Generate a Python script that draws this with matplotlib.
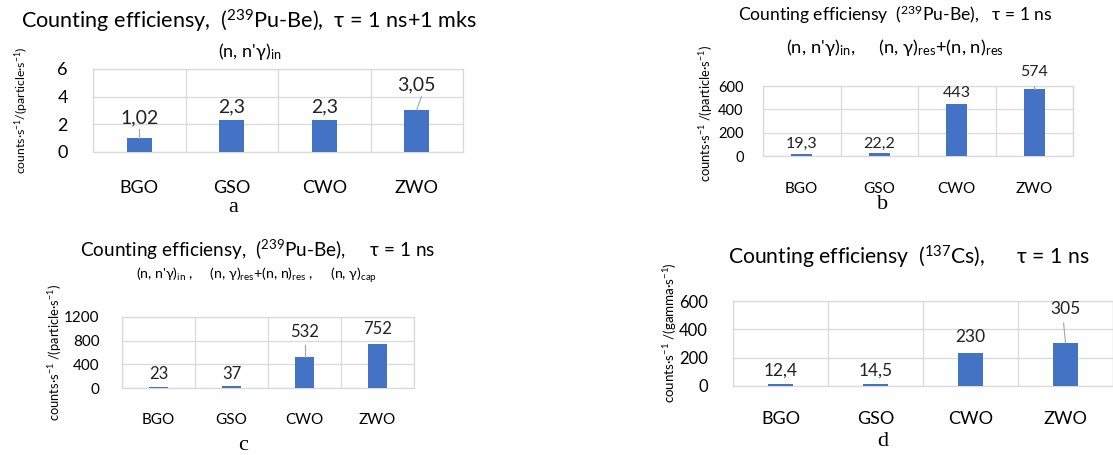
import matplotlib
matplotlib.use('Agg')
import matplotlib.pyplot as plt
from matplotlib.ticker import FixedLocator

plt.rcParams['font.family'] = ['Lato', 'DejaVu Sans']
plt.rcParams['mathtext.fontset'] = 'custom'
plt.rcParams['mathtext.rm'] = 'Lato'
plt.rcParams['mathtext.it'] = 'Lato:italic'
plt.rcParams['mathtext.bf'] = 'Lato:bold'

# data
crystals = ['BGO', 'GSO', 'CWO', 'ZWO']

eff_a = [1.02, 2.3, 2.3, 3.05]
eff_b = [19.3, 22.2, 443, 574]
eff_c = [23, 37, 532, 752]
eff_d = [12.4, 14.5, 230, 305]

labels_a = ['1,02', '2,3', '2,3', '3,05']
labels_b = ['19,3', '22,2', '443', '574']
labels_c = ['23', '37', '532', '752']
labels_d = ['12,4', '14,5', '230', '305']

yticks_a = [0, 2, 4, 6]
yticks_b = [0, 200, 400, 600]
yticks_c = [0, 400, 800, 1200]
yticks_d = [0, 200, 400, 600]

title_a = r"Counting efficiensy,  ($^{239}$Pu-Be),  τ = 1 ns+1 mks"
sub_a = r"(n, n'γ)$_\mathrm{in}$"
title_b = r"Counting efficiensy  ($^{239}$Pu-Be),   τ = 1 ns"
sub_b = r"(n, n'γ)$_\mathrm{in}$,     (n, γ)$_\mathrm{res}$+(n, n)$_\mathrm{res}$"
title_c = r"Counting efficiensy,  ($^{239}$Pu-Be),     τ = 1 ns"
sub_c = r"(n, n'γ)$_\mathrm{in}$ ,     (n, γ)$_\mathrm{res}$+(n, n)$_\mathrm{res}$ ,     (n, γ)$_\mathrm{cap}$"
title_d = r"Counting efficiensy  ($^{137}$Cs),      τ = 1 ns"

ylab_part = r"counts·s$^{-1}$/(particle·s$^{-1}$)"
ylab_part2 = r"counts·s$^{-1}$ /(particle·s$^{-1}$)"
ylab_gamma = r"counts·s$^{-1}$ /(gamma·s$^{-1}$)"

BAR = '#4472C4'
GRID = '#D9D9D9'
W, H = 1113, 455

fig = plt.figure(figsize=(W / 100, H / 100), dpi=100)


def box(l, t, r, b):
    return [l / W, 1 - b / H, (r - l) / W, (b - t) / H]


def ftxt(x, y, s, **kw):
    fig.text(x / W, 1 - y / H, s, ha='center', va='center', **kw)


def panel(rect, vals, labs, yt, lab_y, leaders, fs_tick, fs_ytick, fs_lab, pad_x, pad_y):
    ax = fig.add_axes(box(*rect))
    x = range(len(crystals))
    ax.bar(x, vals, width=0.27, color=BAR, zorder=3)
    ax.set_xlim(-0.5, len(crystals) - 0.5)
    ax.set_ylim(yt[0], yt[-1])
    ax.set_yticks(yt)
    ax.set_xticks(list(x))
    ax.set_xticklabels(crystals, fontsize=fs_tick)
    ax.tick_params(axis='y', labelsize=fs_ytick, length=0, pad=pad_y)
    ax.tick_params(axis='x', length=0, pad=pad_x)
    ax.xaxis.set_minor_locator(FixedLocator([i - 0.5 for i in range(len(crystals) + 1)]))
    ax.tick_params(axis='x', which='minor', length=0)
    ax.grid(axis='y', which='major', color=GRID, lw=0.9, zorder=0)
    ax.grid(axis='x', which='minor', color=GRID, lw=0.9, zorder=0)
    for s in ax.spines.values():
        s.set_color(GRID)
        s.set_linewidth(0.9)
    for i, (v, t, ly) in enumerate(zip(vals, labs, lab_y)):
        ax.text(i, ly, t, ha='center', va='center', fontsize=fs_lab, color='#222222')
        if leaders[i] is not None:
            dx, top = leaders[i]
            ax.plot([i, i + dx], [v, top], color='#A6A6A6', lw=0.8, zorder=4)
    return ax


# a
panel((93, 69, 463, 152), eff_a, labels_a, yticks_a, [2.46, 3.26, 3.26, 4.85],
      [(0, 1.65), None, None, (0.05, 4.0)], 13, 13, 14, 20, 18)
ftxt(249, 21, title_a, fontsize=15.6)
ftxt(250, 52, sub_a, fontsize=13)
ftxt(22, 110, ylab_part, fontsize=8.8, rotation=90)
ftxt(233, 208, 'a', fontsize=16, family='Liberation Serif')

# b
panel((763, 86, 1073, 156), eff_b, labels_b, yticks_b, [103, 103, 540, 722],
      [None, None, None, (0, 651)], 11, 10.5, 11.5, 19, 14)
ftxt(895, 15, title_b, fontsize=12.6)
ftxt(895, 48, sub_b, fontsize=13.3)
ftxt(706, 113, ylab_part2, fontsize=9.3, rotation=90)
ftxt(883, 205, 'b', fontsize=16, family='Liberation Serif')

# c
panel((122, 317, 414, 388), eff_c, labels_c, yticks_c, [245, 245, 951, 997],
      [None, None, (0, 727), None], 11, 11, 12, 18, 16)
ftxt(258, 250, title_c, fontsize=13.7)
ftxt(257, 275, sub_c, fontsize=10.2)
ftxt(55, 352, ylab_part2, fontsize=9.3, rotation=90)
ftxt(243, 445, 'c', fontsize=16, family='Liberation Serif')

# d
panel((733, 301, 1113, 386), eff_d, labels_d, yticks_d, [106, 106, 348, 541],
      [None, None, None, (-0.02, 445)], 13, 12, 12.5, 18, 18)
ftxt(909, 257, title_d, fontsize=15.2)
ftxt(670, 333, ylab_gamma, fontsize=9.6, rotation=90)
ftxt(883, 442, 'd', fontsize=16, family='Liberation Serif')

fig.savefig('out.png', dpi=100)
